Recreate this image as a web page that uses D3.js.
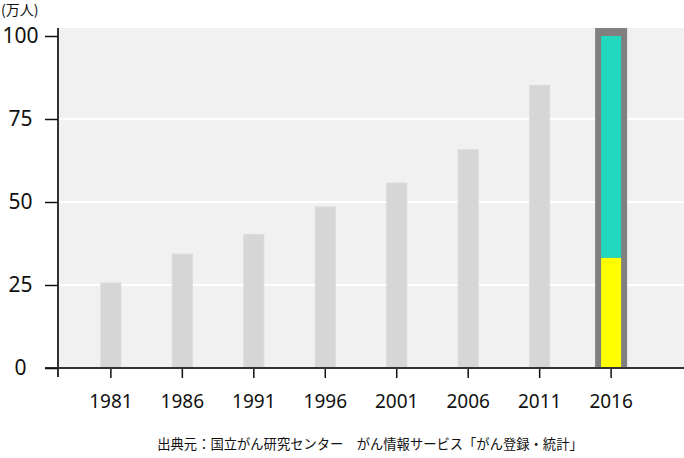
<!DOCTYPE html>
<html>
<head>
<meta charset="utf-8">
<script src="https://cdn.jsdelivr.net/npm/d3@7"></script>
<style>
  html, body { margin: 0; padding: 0; background: #fff; }
  svg { display: block; font-family: "Noto Sans CJK JP", "Noto Sans", sans-serif; }
</style>
</head>
<body>
<svg id="chart" width="684" height="458"></svg>
<script>
const years = ["1981", "1986", "1991", "1996", "2001", "2006", "2011", "2016"];
const values = [25.6, 34.3, 40.2, 48.5, 55.7, 65.7, 85.1, 100];
const highlightYear = "2016";
const highlightParts = [33.2, 66.8]; // lower (yellow), upper (teal)
const yTicks = [0, 25, 50, 75, 100];
const unitLabel = "(万人)";
const sourceText = "出典元：国立がん研究センター　がん情報サービス「がん登録・統計」";

const svg = d3.select("#chart");
const plotLeft = 58, plotRight = 684, plotTop = 28, plotBottom = 368;
const numFont = "'Noto Sans', 'Open Sans', sans-serif";

const x = d3.scaleBand().domain(years).range([58, 664]).paddingInner(0.72).paddingOuter(0.6);
const y = d3.scaleLinear().domain([0, 100]).range([368, 36]);

// background
svg.append("rect").attr("x", plotLeft).attr("y", plotTop)
  .attr("width", plotRight - plotLeft).attr("height", plotBottom - plotTop)
  .attr("fill", "#f1f1f1");

// grid lines
svg.append("g").selectAll("line").data(yTicks.filter(t => t > 0 && t < 100)).join("line")
  .attr("x1", plotLeft).attr("x2", plotRight)
  .attr("y1", d => y(d)).attr("y2", d => y(d))
  .attr("stroke", "#ffffff").attr("stroke-width", 2);

// normal bars
svg.append("g").selectAll("rect").data(years.map((yr, i) => ({yr, v: values[i]})).filter(d => d.yr !== highlightYear)).join("rect")
  .attr("x", d => x(d.yr)).attr("width", x.bandwidth())
  .attr("y", d => y(d.v)).attr("height", d => y(0) - y(d.v))
  .attr("fill", "#d6d6d6").attr("stroke", "#dadada").attr("stroke-width", 1);

// highlighted bar
const hx = x(highlightYear), bw = x.bandwidth();
const hTotal = values[years.indexOf(highlightYear)];
const pad = 6;
svg.append("rect").attr("x", hx - pad).attr("width", bw + 2 * pad)
  .attr("y", y(hTotal) - 8).attr("height", y(0) - y(hTotal) + 8)
  .attr("fill", "#808080");
let acc = 0;
const partColors = ["#ffff00", "#22d9bf"];
highlightParts.forEach((p, i) => {
  svg.append("rect").attr("x", hx).attr("width", bw)
    .attr("y", y(acc + p)).attr("height", y(acc) - y(acc + p))
    .attr("fill", partColors[i]);
  acc += p;
});

// axes
const xAxis = svg.append("g").attr("transform", `translate(0,${plotBottom})`)
  .call(d3.axisBottom(x).tickSize(10).tickSizeOuter(0).tickPadding(17));
xAxis.select(".domain").remove();
xAxis.selectAll(".tick line").attr("stroke", "#111").attr("stroke-width", 1.5);
xAxis.selectAll(".tick text").attr("font-size", 19).attr("fill", "#111")
  .attr("font-family", numFont);

svg.append("line").attr("x1", 45).attr("x2", plotRight).attr("y1", plotBottom).attr("y2", plotBottom)
  .attr("stroke", "#333").attr("stroke-width", 2);
svg.append("line").attr("x1", plotLeft).attr("x2", plotLeft).attr("y1", plotTop).attr("y2", 377)
  .attr("stroke", "#333").attr("stroke-width", 2);

const yAxis = svg.append("g").attr("transform", `translate(${plotLeft},0)`)
  .call(d3.axisLeft(y).tickValues(yTicks).tickSize(13).tickSizeOuter(0).tickPadding(0));
yAxis.select(".domain").remove();
yAxis.selectAll(".tick line").attr("stroke", "#111").attr("stroke-width", 1.5);
yAxis.selectAll(".tick text").attr("font-size", 21).attr("fill", "#111")
  .attr("text-anchor", "middle").attr("x", -37.5)
  .attr("font-family", numFont);

// unit label
svg.append("text").attr("x", 1).attr("y", 15).attr("font-size", 14).attr("fill", "#111")
  .text(unitLabel);

// source
svg.append("text").attr("x", 370).attr("y", 449).attr("text-anchor", "middle")
  .attr("font-size", 13.3).attr("fill", "#111").text(sourceText);
</script>
</body>
</html>
